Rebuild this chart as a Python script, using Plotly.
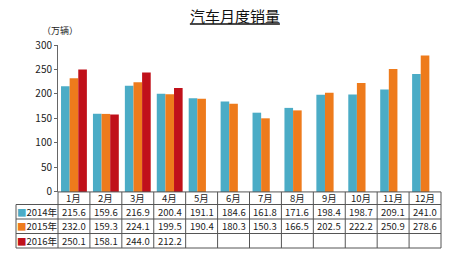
import plotly.graph_objects as go

months = ["1月", "2月", "3月", "4月", "5月", "6月", "7月", "8月", "9月", "10月", "11月", "12月"]
series_names = ["2014年", "2015年", "2016年"]
sales_2014 = [215.6, 159.6, 216.9, 200.4, 191.1, 184.6, 161.8, 171.6, 198.4, 198.7, 209.1, 241.0]
sales_2015 = [232.0, 159.3, 224.1, 199.5, 190.4, 180.3, 150.3, 166.5, 202.5, 222.2, 250.9, 278.6]
sales_2016 = [250.1, 158.1, 244.0, 212.2, None, None, None, None, None, None, None, None]
colors = ["#4BACC6", "#EE7B1C", "#C0101A"]
y_ticks = [0, 50, 100, 150, 200, 250, 300]

series = [sales_2014, sales_2015, sales_2016]
FONT = "Noto Sans CJK SC"
LINE = "#555555"

W, H = 457, 260
ML, MR, MT, MB = 16, 16, 45, 5
PH = H - MT - MB
def py(px):  # pixel row -> paper fraction
    return (H - MB - px) / PH

plot_left_px = 58
plot_bottom_px = 197
row_edges_px = [197, 210, 225, 240, 255]   # header row + 3 data rows
x_dom0 = (plot_left_px - ML) / (W - ML - MR)
y_dom0 = py(plot_bottom_px)

fig = go.Figure()
for name, vals, c in zip(series_names, series, colors):
    fig.add_trace(go.Bar(
        x=months, y=vals, name=name, marker=dict(color=c, line=dict(width=0)),
        showlegend=False,
    ))

shapes = []
annotations = []
tfont = dict(family=FONT, size=9.5, color="#222")

# table grid
shapes.append(dict(type="line", xref="x domain", yref="paper", x0=0, x1=1,
                   y0=py(row_edges_px[0]), y1=py(row_edges_px[0]),
                   line=dict(color=LINE, width=1)))
for e in row_edges_px[1:]:
    shapes.append(dict(type="line", xref="paper", yref="paper", x0=0, x1=1,
                       y0=py(e), y1=py(e), line=dict(color=LINE, width=1)))
shapes.append(dict(type="line", xref="paper", yref="paper", x0=0, x1=0,
                   y0=py(row_edges_px[1]), y1=py(row_edges_px[-1]),
                   line=dict(color=LINE, width=1)))
for xd in (0, 1):
    shapes.append(dict(type="line", xref="x domain", yref="paper", x0=xd, x1=xd,
                       y0=py(row_edges_px[0]), y1=py(row_edges_px[-1]),
                       line=dict(color=LINE, width=1)))
for i in range(1, len(months)):
    shapes.append(dict(type="line", xref="x", yref="paper", x0=i - 0.5, x1=i - 0.5,
                       y0=py(row_edges_px[0]), y1=py(row_edges_px[-1]),
                       line=dict(color=LINE, width=1)))

def row_center(r):
    return py((row_edges_px[r] + row_edges_px[r + 1]) / 2)

cell = dict(xanchor="center", yanchor="middle", showarrow=False, font=tfont, borderpad=0)
# header row: months
for m in months:
    annotations.append(dict(text=m, x=m, xref="x", y=row_center(0), yref="paper", **cell))
# data rows
for r, (name, vals, c) in enumerate(zip(series_names, series, colors)):
    annotations.append(dict(text="<span style='color:%s'>■</span>%s" % (c, name),
                            x=x_dom0 / 2, xref="paper", y=row_center(r + 1), yref="paper", **cell))
    for m, v in zip(months, vals):
        if v is None:
            continue
        annotations.append(dict(text="%.1f" % v, x=m, xref="x", y=row_center(r + 1),
                                yref="paper", **cell))

annotations.append(dict(text="（万辆）", x=(60 - ML) / (W - ML - MR), xref="paper",
                        y=py(30), yref="paper", xanchor="center", yanchor="middle",
                        showarrow=False, font=dict(family=FONT, size=9, color="#222")))

fig.update_layout(
    width=W, height=H,
    margin=dict(l=ML, r=MR, t=MT, b=MB),
    paper_bgcolor="white", plot_bgcolor="white",
    barmode="group", bargap=0.19, bargroupgap=0,
    font=dict(family=FONT, color="#222"),
    title=dict(text="<u>汽车月度销量</u>", x=0.514, xref="container", xanchor="center",
               y=1 - 17 / H, yref="container", yanchor="middle",
               font=dict(family=FONT, size=15, color="#111")),
    xaxis=dict(domain=[x_dom0, 1], showticklabels=False, showline=False, ticks="",
               showgrid=False, zeroline=False, range=[-0.5, 11.5]),
    yaxis=dict(domain=[y_dom0, 1], range=[0, 300], tickvals=y_ticks,
               showline=True, linecolor="#666", linewidth=1, ticks="outside",
               ticklen=3, tickcolor="#666", showgrid=False, zeroline=False,
               tickfont=dict(family=FONT, size=10, color="#222")),
    shapes=shapes,
    annotations=annotations,
)
fig.write_html("out.html")
